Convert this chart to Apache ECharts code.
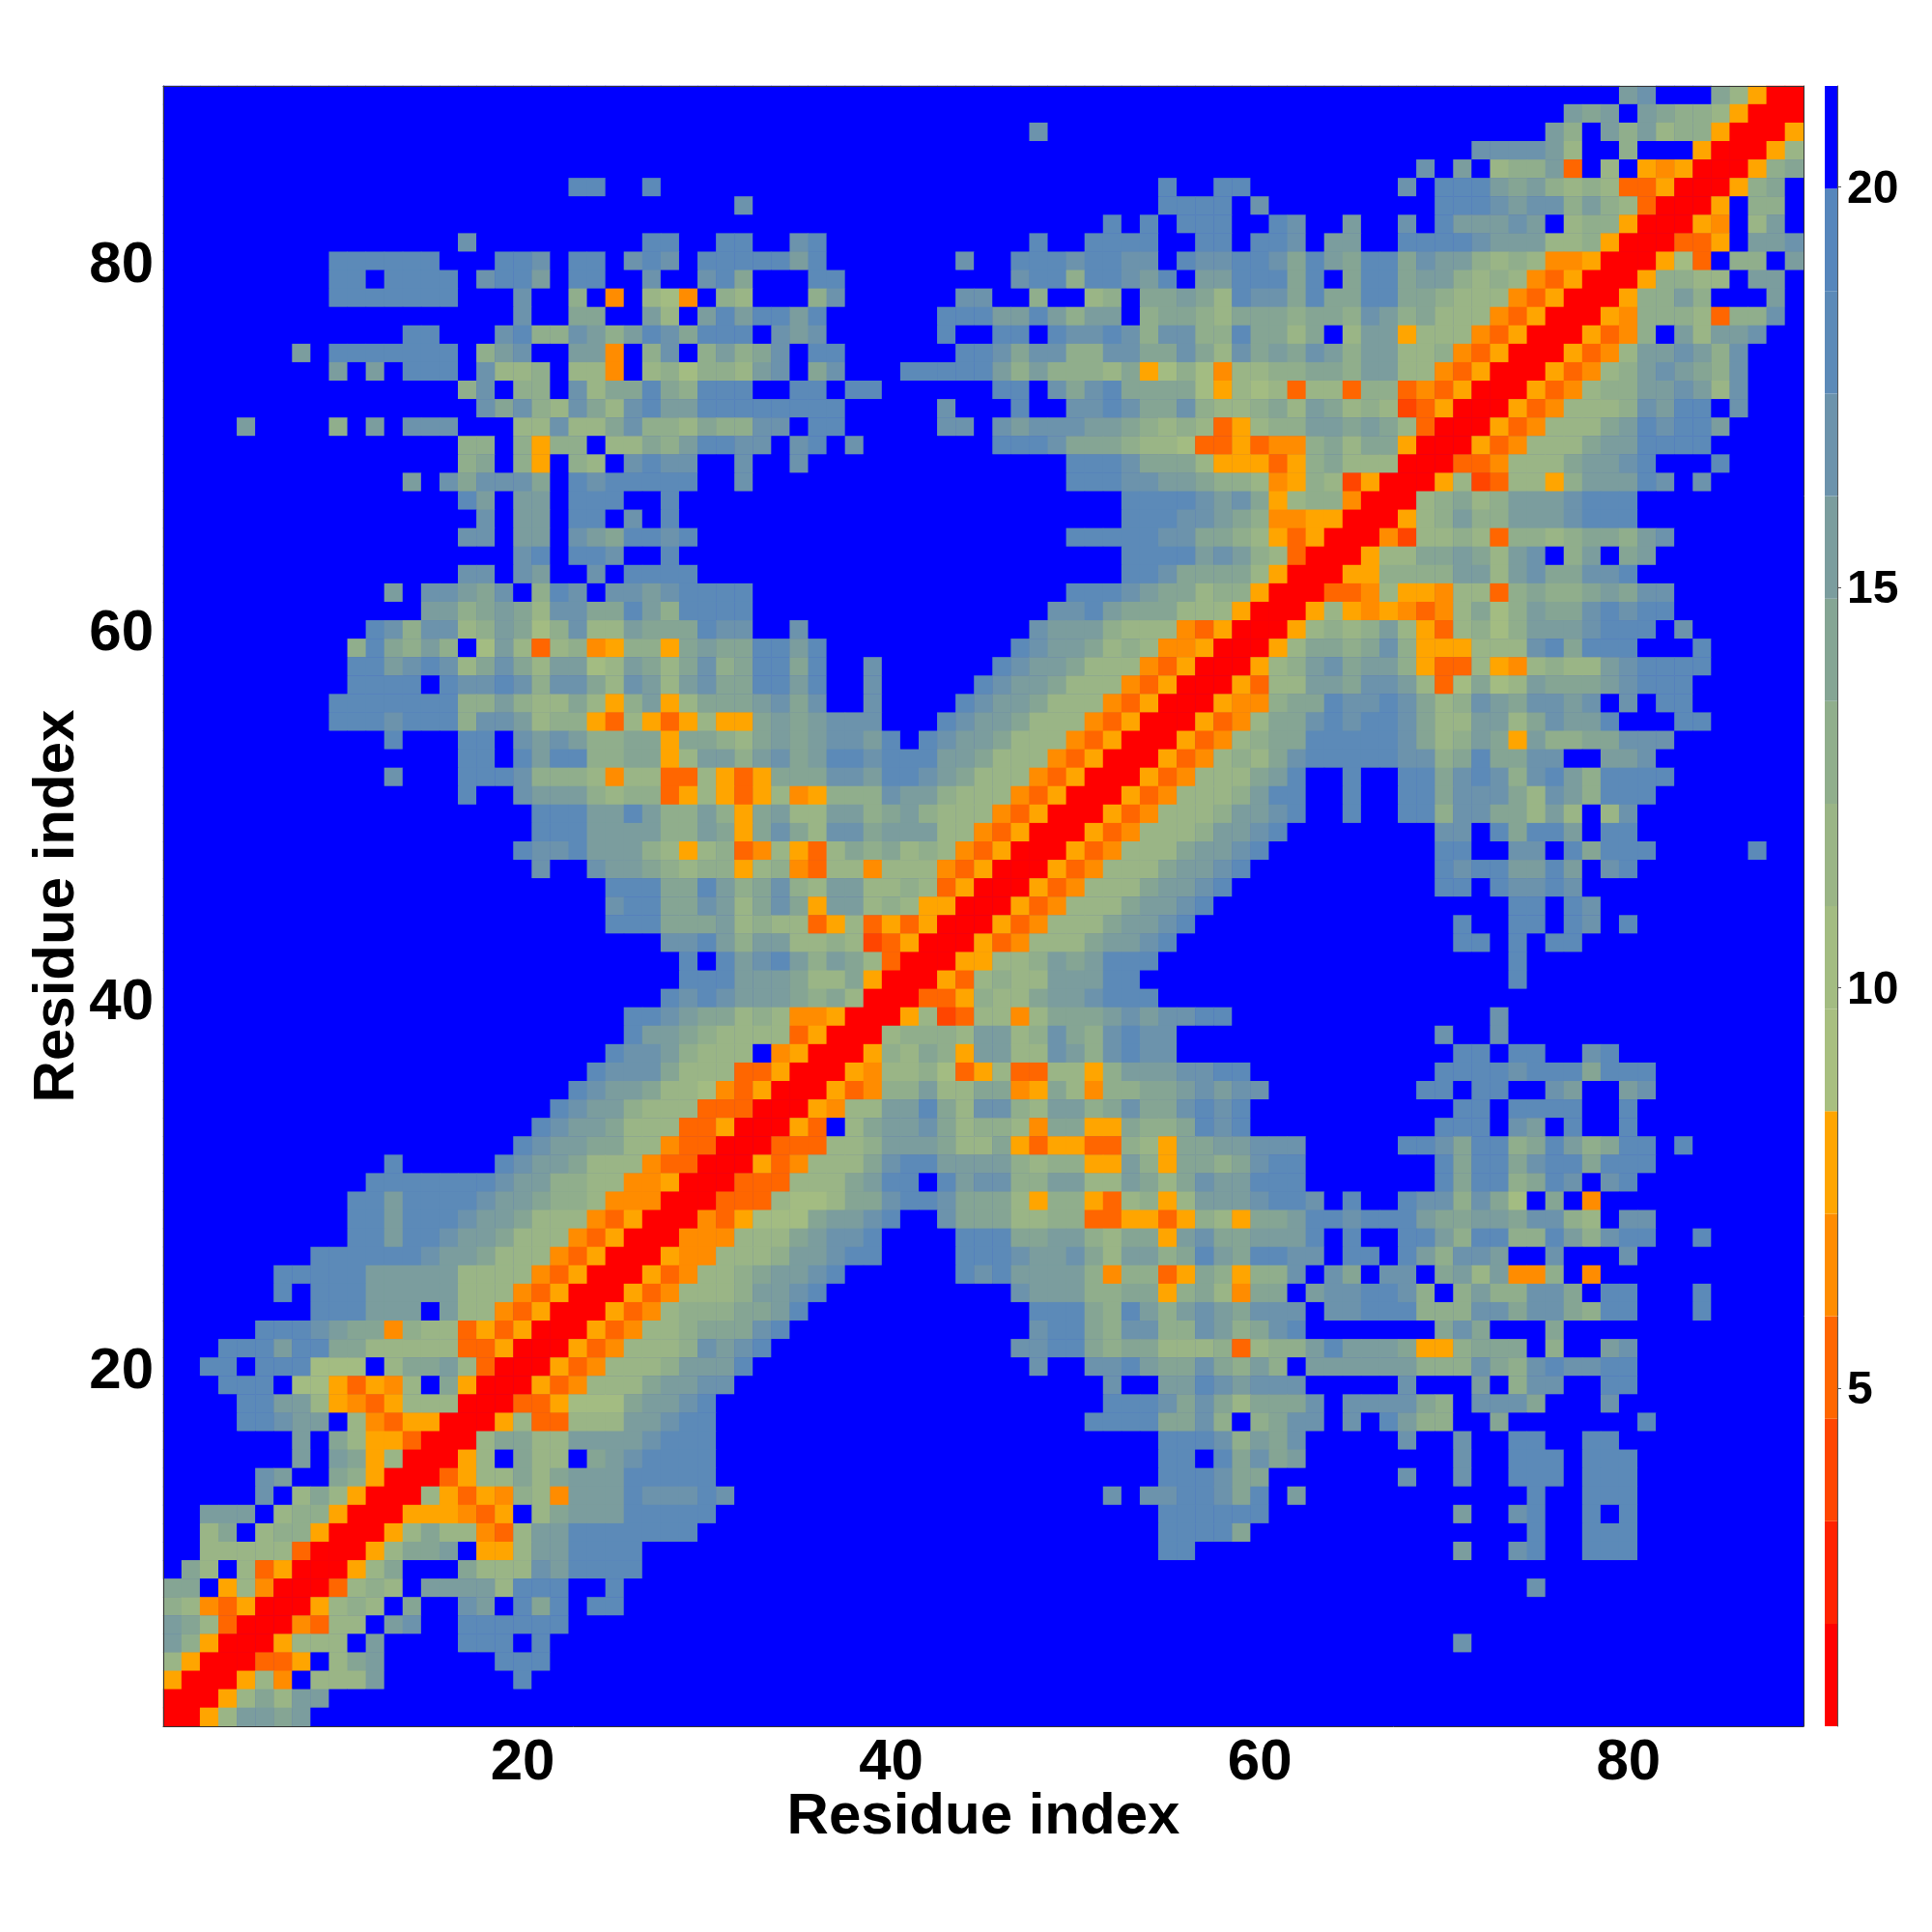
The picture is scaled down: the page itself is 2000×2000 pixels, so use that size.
<!DOCTYPE html>
<html><head><meta charset="utf-8">
<style>html,body{margin:0;padding:0;background:#fff}#c{width:2000px;height:2000px}</style>
<script src="https://cdn.jsdelivr.net/npm/echarts@6/dist/echarts.min.js"></script>
</head><body><div id="c"></div>
<script>
// Each cell holds the colour band it shows (hex digit, 0 = red ... f = blue); {n} = run of n blue cells.
const topLeft=["{30}","{30}","{30}","{30}","{30}","{22}dd{2}d{3}","{30}","{30}","{16}c{9}dd{2}",
"{9}dddddd{3}ddc{1}dd{1}cdc{1}d","{9}dd{1}dddd{1}cddb{1}dd{2}c{2}c","{9}ddddddd{3}c{2}9f4f874f","{19}c{2}aa{2}b8{1}b",
"{13}dd{3}cd99cb9bdcad","{7}b{1}ddddddd{1}9bc{2}bb4f9cf9","{9}b{1}b{1}ddd{1}c889{1}884f8979","{16}9c{1}99{1}c8aada9d",
"{17}cac98ca8cdbbd","{4}b{4}9{1}b{1}ccc{3}88c88ac998a","{16}99{1}9599{1}88a9bd","{16}9a{1}95{1}98{1}cdccf",
"{13}b{1}caccca{1}dcddddd{1}","{16}db{1}bb{1}ddd{2}d{2}","{17}c{1}bb{1}dd{1}c{1}d{2}","{16}cc{1}bb{1}cbaddcd{1}",
"{19}cd{1}ddc{2}d{2}","{16}cc{1}cb{2}c{1}dddd{1}","{12}b{1}ccbac{1}9dc{1}ccbcdd","{14}bb9aba8ccaadb9dd","{11}dc9cc89ba79c88baaad"];
const topMid=["{30}","{30}","{17}c{12}","{30}","{30}","{24}d{2}dd{1}","{1}c{22}dddd{1}c","{21}d{1}d{1}ddd{2}",
"ddffcd{11}d{2}dddd{2}dd{1}d","ddddbd{7}c{2}dddcddcc{1}dccdd","da{3}dd{9}cdd9ddcbd{1}bbdd","98{3}9c{6}cc{2}9{2}89{1}aaba8dc",
"dbddbd{6}dddbbdb9bb{1}9aa98aa","ddfcbc{6}d{2}dd{1}dccdc9cc99da","b9acfdd{6}ddcacc99ccaaca8ca","98bcfac{3}dddddb9b9998a5797488",
"ddffdd{1}dd{6}dd{1}cacdaaaa7587","ddddddd{5}c{3}d{2}ccdcaac9889","99cc{1}dd{5}cc{1}cbcccbba9898358","dcc{1}cd{1}c{7}dddcaaa98873353",
"{1}c{2}c{14}dddcaaa8555","{1}c{17}dddccbba998","{22}ddddcbca","{22}dddccba9","{19}dddddccaa98","{22}ddddbcb9","{22}ddcaaaa8",
"dd{17}dddcbaa8995","dd{16}ccdbaaa88850","cc{2}c{12}cbbb988843500"];
const topRight=["{19}bc{3}a8500","{16}bab{1}ba9985000","{15}b9{1}b9b89950005","{11}ccccb8{2}9{3}500058","{8}c{1}b{1}899b3{1}8{1}54500059a",
"{7}c{1}dddbab989833500059a{1}","{9}dddcbcc9b9830005{1}99{1}","dc{2}b{2}c{1}dbbbcb{1}899500054{1}8b{1}","dc{1}bb{2}ddddcbbb8895000335{1}bbc",
"cadbaddacbb9898445000573{1}99{1}b","dadfaddabb989843500059988{1}bb{1}","cadaaddaa9888435000599b9{3}b{1}","a9aa9cb9a888435000549998399c{1}",
"a8af8bb58884350005349{1}b8bbc{2}","bacb9bb8894350005348bbcb9c{3}","99aa9bb8843500053489bcba9c{3}","83883993435000534899bbcb8c{3}",
"a8ba8982350005348889cbdd{1}c{3}","99bbaba83000534888abdcddb{4}","449a8aa5000534888abbdddd{5}","359a888000334888abbcd{3}d{4}",
"45982500058238859bbbdc{1}c{5}","5899400089a89bbbcddd{9}","4455000589b99bbbcddd{9}","53500042889839989aa9bc{7}",
"83000588aaba8bc{1}9b{1}ab{8}","5000559999bb8bcaaccd{9}","00033485548839a99abacc{7}","00585454348a79baacdcdd{7}","058989b8538979bbbcddd{1}c{6}"];
const midLeft=["{10}9da9b9f7b838945995ab","{10}ddbcdc8aca8bb78ba8ac","{10}ddddfdccdc9cca8cb8bc","{9}ddddddd99b988a859b58a","{9}dddcddd9ccb8995385358",
"{12}d{3}dd{1}cbcb99aa5aa","{16}dd{1}dbdd99aa58b","{12}c{3}dddc9998488338","{16}d{2}cbbb9899358","{20}dddbbdb99b","{20}dddbbbb99b","{19}dccdbbb9858",
"{20}c{2}cbba989","{24}dddaad","{24}cddaac","{24}dddaaa","{27}ccd","{28}d{1}","{28}dd","{27}dcd","{25}ddcba","{25}dbba9","{24}dccb98","{23}dccca88",
"{22}dcbba887","{21}dcbb98883","{20}dcbba88833","{19}dcbbaa88433","{12}d{5}dcbba8884330","{11}dddddddcbb998844500"];
const midMid=["aaddbd{10}dcbba898445000","9addad{2}c{6}dcbba8884350005","aaddbd{2}c{5}dcbba88843500053","aabcac{2}c{4}dcbba888435000544",
"55ababccc{3}dcbba8884350005348","98ababccbd{1}dcbba88843500053489","b9bcabddcdddbba888435000534898","535aaaccbddcba888435000534888a",
"535845999cbb98884350005348889b","95ab88bb9ab98884350005348889bb","a5aca8ccabbb884350005348889bbc","9348538a9a898435000534888abbcd",
"958943884888435000534888abbcdf","b9ac98bb889835000534888abbcdff","b8aca5bb89855000534888abbcdfff","b89883583535000534888abbcdffff",
"b9bb8898235000534888abbcdfffff","dbcdb9ba8300055889babddd{6}","dbbba88a5000538988bbbdd{7}","cbbba9a8000335988abbcddd{6}",
"a89844500058238848aaabcbccdd{2}","88883500089998bb89ca9cdcc{5}","88f45000598a95bb88cb9cdcc{5}","8335000548897358338859bbbccdd{1}",
"43500053499b88aa45a8499aabcbcc","330005488bbda8cc98bb9acaacdcd{1}","500053{1}8abbca89984aa55a99adcd{1}","000333889bbba88a535533985aabbc",
"00534888acddbbbb989955b95aa9ac","0333888abdd{1}dbcc99bb88ba8acbbd"];
const midRight=["58aa9ac9555888cdaddd{3}d{5}","89bcabb95338548988bcdddd{5}","88bbaccb837a78baaabcddd{6}","9aadccdca89cbaccbc{1}c{1}dd{6}","aacdcddca88bb8acbbd{3}dd{5}",
"aadddddca89ba5b99aaccc{7}","acdddddcc9adaacc{2}bbc{8}","bd{2}d{2}ddacdc9cdb9dddd{7}","dd{2}d{2}ddaccca8cb9ddd{8}","cd{2}d{2}dd9ccaa8b8{1}8c{9}",
"d{8}cc{1}daddb{1}dd{9}","{9}dd{2}cc{1}daddd{5}d{2}","{9}dcddbbdb{1}cd{9}","{9}dd{1}dccdc{12}","{13}dd{1}dc{11}","{10}d{2}dd{1}dc{1}d{9}","{10}dd{1}d{1}dd{12}",
"{13}d{15}","{13}d{15}","{29}","{12}c{16}","{9}c{2}c{16}","{10}dd{1}dd{2}cd{10}","{9}ddddcdddaddd{8}","{8}dd{1}dd{2}cb{2}bc{8}","{10}dd{1}dddd{2}d{9}",
"{9}ddd{1}cb{1}d{2}d{9}","cc{5}ddcadd9adb9add{1}d{6}","dd{7}daddacddaddd{8}","dd{7}dadd9adc{1}cd{9}"];
const lowLeft=["{10}ddbddddcbba998444000","{10}ddbdddcbba8884350004","{10}ddbddcbba88843500044","{8}ddddddcbba888435000544","{6}dddddbbbbb88884350005348",
"{6}d{1}dddbbbbb88843500053488","{8}dddbbb{1}b88435000534899","{5}dddcbaa49883535000534889a","{3}dddbddaa888883350005348889c",
"{2}dd{1}ddd777{1}8aab830005348889bb","{3}ddd{1}7753548{1}a5000534888abbc","{4}ddbb85435888000335777abbcd","{4}ddcbb{1}843550005833888bbcdd",
"{7}b{1}a85530008aa88bbbbcddd","{7}b{1}ba5800058{1}a88{1}abcdddd","{5}cb{2}a950003588a8abbbddddd","{5}c{1}8a8500085354984bbbdcccd",
"{2}bbb{1}8995000555435{1}8abbbddddd","{2}8a{1}899500058a88438bbddddddd{1}","{2}88888300058aab{1}558bbdddd{4}","{1}a8{1}83500058a{3}a888cbdddd{4}",
"aa{1}5840003898{1}bbbb8ddd{2}d{5}","984350005898{1}a{2}cb{1}dad{1}dd{5}","ba830004388{1}bc{2}dddddd{8}","b950005888{1}b{4}ddd{1}d{9}",
"85000335{1}8ab{6}ddd{9}","5000584{1}888b{7}d{10}","00058a8bb{21}","0058bbab{22}"];
const lowMid=["3338778aacddcaaa8599538958bbbc","35777abbcd{2}caaa8899335535985a","4888abccd{4}dddaabb98aa5bcaab","8889bbcdd{4}dddcbbca8bb9adbad",
"89abbcd{6}dcdbbbb949935a959","89bbcd{10}cbbb99aa59a84a","9aabd{12}ddda9db9bcbac","aacd{13}cdda9cc99cb9a","bcd{13}ccdda9aa888938","bd{15}c{2}ccdbaaca9b",
"c{20}c{2}bbdcbc","{21}dddcaca8a","{20}ddddaac9{1}9","{24}dddc9b","{24}dd{1}dac","{24}dddcaa","c{20}c{1}ccddcad","{24}dddddd","{24}dddda{1}","{24}dd{4}",
"{30}","{30}","{30}","{30}","{30}","{30}","{30}","{30}","{30}"];
const lowRight=["ddc{1}d{2}dcc9ca7{1}a{1}4{11}","abddcdddbaabbacc98{1}cc{8}","bbd{1}d{2}ddb9dd99db9cdd{2}d{5}","dcc{1}dd{1}db9ccb{2}c{3}c{9}","9c{1}ca{1}cc{1}ab8b449{1}4{11}",
"a{1}bccddc9{1}9b99cca{1}dd{3}d{5}","cc{1}ccddd999ccacca9dd{3}d{5}","cd{7}aca{3}a{13}","99bdbbba559aaa{1}9{2}bc{9}","9{1}bbbbbb999ca9cdccdd{9}","cc{5}c{3}b{1}9cc{2}dd{9}",
"aac{1}cccca9{1}ccca{3}c{10}","acc{1}c{1}db99{2}a{7}d{8}","ac{5}c{2}c{2}dd{2}dd{10}","ab{8}c{2}ddd{1}ddd{9}","{7}c{2}c{2}ddd{1}ddd{9}","{1}b{12}d{2}ddd{9}",
"{10}b{2}cd{2}d{1}d{9}","{14}d{2}ddd{9}","{10}b{2}cd{2}ddd{9}","{29}","{14}c{14}","{29}","{29}","{10}c{18}","{29}","{29}","{29}","{29}"];

const bandColors=["#FF0000","#FF2200","#FF4500","#FF6600","#FF8C00","#FFA500","#A8BF80","#A3BC82","#9AB586","#90AE8C","#85A594","#7B9D9E","#6C93AC","#5C8AB8","#5686BC","#0000FF"];
const bandEdges=[0.78,2.06,3.34,4.62,5.9,7.18,8.46,9.74,11.02,12.3,13.58,14.86,16.14,17.42,18.7,19.98,21.26];
const colorbarTicks=[5,10,15,20];
const residueTickStep=20;
const axisTitle="Residue index";

const expand=s=>s.replace(/\{(\d+)\}/g,(m,n)=>'f'.repeat(+n));
const join3=(a,b,c,w)=>a.map((_,i)=>{
  const A=expand(a[i]),B=expand(b[i]),C=expand(c[i]);
  if(A.length!==30||B.length!==30||C.length!==w) throw new Error('row '+w+' '+i+' lens '+A.length+' '+B.length+' '+C.length);
  return A+B+C;
});
const rows=[...join3(topLeft,topMid,topRight,29),...join3(midLeft,midMid,midRight,29),...join3(lowLeft,lowMid,lowRight,29)];
const N=89;
const residues=Array.from({length:N},(_,i)=>String(i+1));
const cells=[];
rows.forEach((row,r)=>{for(let c=0;c<N;c++){const b=parseInt(row[c],16);cells.push([c,N-1-r,(bandEdges[b]+bandEdges[b+1])/2]);}});
const pieces=bandColors.map((color,i)=>({gte:bandEdges[i],lt:bandEdges[i+1],color}));
const showTick=(i,v)=>(+v)%residueTickStep===0;
const FONT='"Liberation Sans", Arial, sans-serif';
const tick={alignWithLabel:true,interval:showTick,length:6,lineStyle:{color:'#555',width:1}};
const line={show:true,lineStyle:{color:'#333',width:1}};
const catAxis=(extra)=>Object.assign({type:'category',data:residues,z:5,axisLine:line,axisTick:tick,splitLine:{show:false},splitArea:{show:false}},extra);

const chart=echarts.init(document.getElementById('c'),null,{renderer:'canvas',width:2000,height:2000});
chart.setOption({
  animation:false,backgroundColor:'#fff',
  grid:[{left:169,top:89,width:1698,height:1698,containLabel:false,show:true,backgroundColor:bandColors[15],borderWidth:0},{left:1889,top:89,width:13,height:1698}],
  xAxis:[
    catAxis({gridIndex:0,position:'bottom',name:axisTitle,nameLocation:'middle',nameGap:64,nameMoveOverlap:false,
      nameTextStyle:{fontFamily:FONT,fontWeight:'bold',fontSize:60,color:'#000',verticalAlign:'top',lineHeight:60},
      axisLabel:{interval:showTick,margin:8,fontFamily:FONT,fontWeight:'bold',fontSize:60,color:'#000',lineHeight:60}}),
    catAxis({gridIndex:0,position:'top',axisLabel:{show:false}}),
    {type:'category',gridIndex:1,data:['bar'],show:false}
  ],
  yAxis:[
    catAxis({gridIndex:0,position:'left',name:axisTitle,nameLocation:'middle',nameGap:80,nameRotate:90,nameMoveOverlap:false,
      nameTextStyle:{fontFamily:FONT,fontWeight:'bold',fontSize:60,color:'#000',lineHeight:60},
      axisLabel:{interval:showTick,margin:10,formatter:v=>'{a|'+v+'}',
        rich:{a:{fontFamily:FONT,fontWeight:'bold',fontSize:60,color:'#000',padding:[10,0,0,0]}}}}),
    catAxis({gridIndex:0,position:'right',axisLabel:{show:false}}),
    {type:'value',gridIndex:1,position:'right',min:bandEdges[0],max:bandEdges[bandEdges.length-1],z:5,
      splitLine:{show:false},axisLine:{show:true,lineStyle:{color:'#555',width:1}},
      axisTick:{show:true,length:4,customValues:colorbarTicks,lineStyle:{color:'#555'}},
      axisLabel:{customValues:colorbarTicks,margin:10,formatter:v=>'{a|'+v+'}',
        rich:{a:{fontFamily:FONT,fontWeight:'bold',fontSize:48,color:'#000',padding:[6,0,0,0]}}}}
  ],
  visualMap:{type:'piecewise',show:false,seriesIndex:0,dimension:2,pieces},
  series:[
    {type:'heatmap',xAxisIndex:0,yAxisIndex:0,data:cells,progressive:0,itemStyle:{borderWidth:0},emphasis:{disabled:true}},
    {type:'custom',xAxisIndex:2,yAxisIndex:2,encode:{x:0,y:[1,2]},silent:true,
      data:bandColors.map((c,i)=>[0,bandEdges[i],bandEdges[i+1],i]),
      renderItem:(p,api)=>{
        const lo=api.coord([0,api.value(1)])[1],hi=api.coord([0,api.value(2)])[1];
        return {type:'rect',shape:{x:p.coordSys.x,y:hi,width:p.coordSys.width,height:lo-hi},
          style:{fill:bandColors[api.value(3)]}};
      }}
  ]
});
</script></body></html>
